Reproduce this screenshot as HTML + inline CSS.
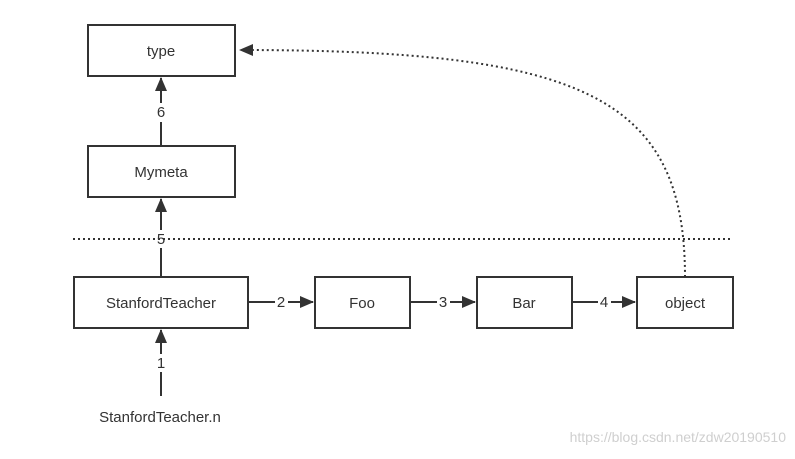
<!DOCTYPE html>
<html><head><style>body{margin:0;background:#fff}</style></head><body>
<svg width="795" height="454" viewBox="0 0 795 454" xmlns="http://www.w3.org/2000/svg" font-family="Liberation Sans, DejaVu Sans, sans-serif">
<defs>
<marker id="b" markerWidth="14" markerHeight="12" refX="13" refY="6" orient="auto" markerUnits="userSpaceOnUse"><path d="M0,0 L14,6 L0,12 z" fill="#333"/></marker></defs>
<g fill="#fff" stroke="#333" stroke-width="2">
<rect x="88" y="25" width="147" height="51"/>
<rect x="88" y="146" width="147" height="51"/>
<rect x="74" y="277" width="174" height="51"/>
<rect x="315" y="277" width="95" height="51"/>
<rect x="477" y="277" width="95" height="51"/>
<rect x="637" y="277" width="96" height="51"/>
</g>
<line x1="73" y1="239" x2="731" y2="239" stroke="#333" stroke-width="2" stroke-dasharray="2,3"/>
<path d="M685,277 C685,95 580,50 240,50" fill="none" stroke="#333" stroke-width="2" stroke-dasharray="2,3" marker-end="url(#b)"/>
<g stroke="#333" stroke-width="2" fill="none">
<line x1="161" y1="146" x2="161" y2="122"/><line x1="161" y1="103" x2="161" y2="78" marker-end="url(#b)"/>
<line x1="161" y1="277" x2="161" y2="248"/><line x1="161" y1="230" x2="161" y2="199" marker-end="url(#b)"/>
<line x1="161" y1="396" x2="161" y2="372"/><line x1="161" y1="354" x2="161" y2="330" marker-end="url(#b)"/>
<line x1="248" y1="302" x2="275" y2="302"/><line x1="288" y1="302" x2="313" y2="302" marker-end="url(#b)"/>
<line x1="410" y1="302" x2="437" y2="302"/><line x1="450" y1="302" x2="475" y2="302" marker-end="url(#b)"/>
<line x1="572" y1="302" x2="598" y2="302"/><line x1="611" y1="302" x2="635" y2="302" marker-end="url(#b)"/>
</g>
<g fill="#333" font-size="15" text-anchor="middle">
<text x="161" y="56">type</text>
<text x="161" y="177">Mymeta</text>
<text x="161" y="308">StanfordTeacher</text>
<text x="362" y="308">Foo</text>
<text x="524" y="308">Bar</text>
<text x="685" y="308">object</text>
<text x="161" y="117">6</text>
<text x="161" y="244">5</text>
<text x="161" y="368">1</text>
<text x="281" y="307">2</text>
<text x="443" y="307">3</text>
<text x="604" y="307">4</text>
<text x="160" y="422">StanfordTeacher.n</text>
</g>
<text x="786" y="442" font-size="14" fill="#cfcfcf" text-anchor="end">https://blog.csdn.net/zdw20190510</text>
</svg>
</body></html>
